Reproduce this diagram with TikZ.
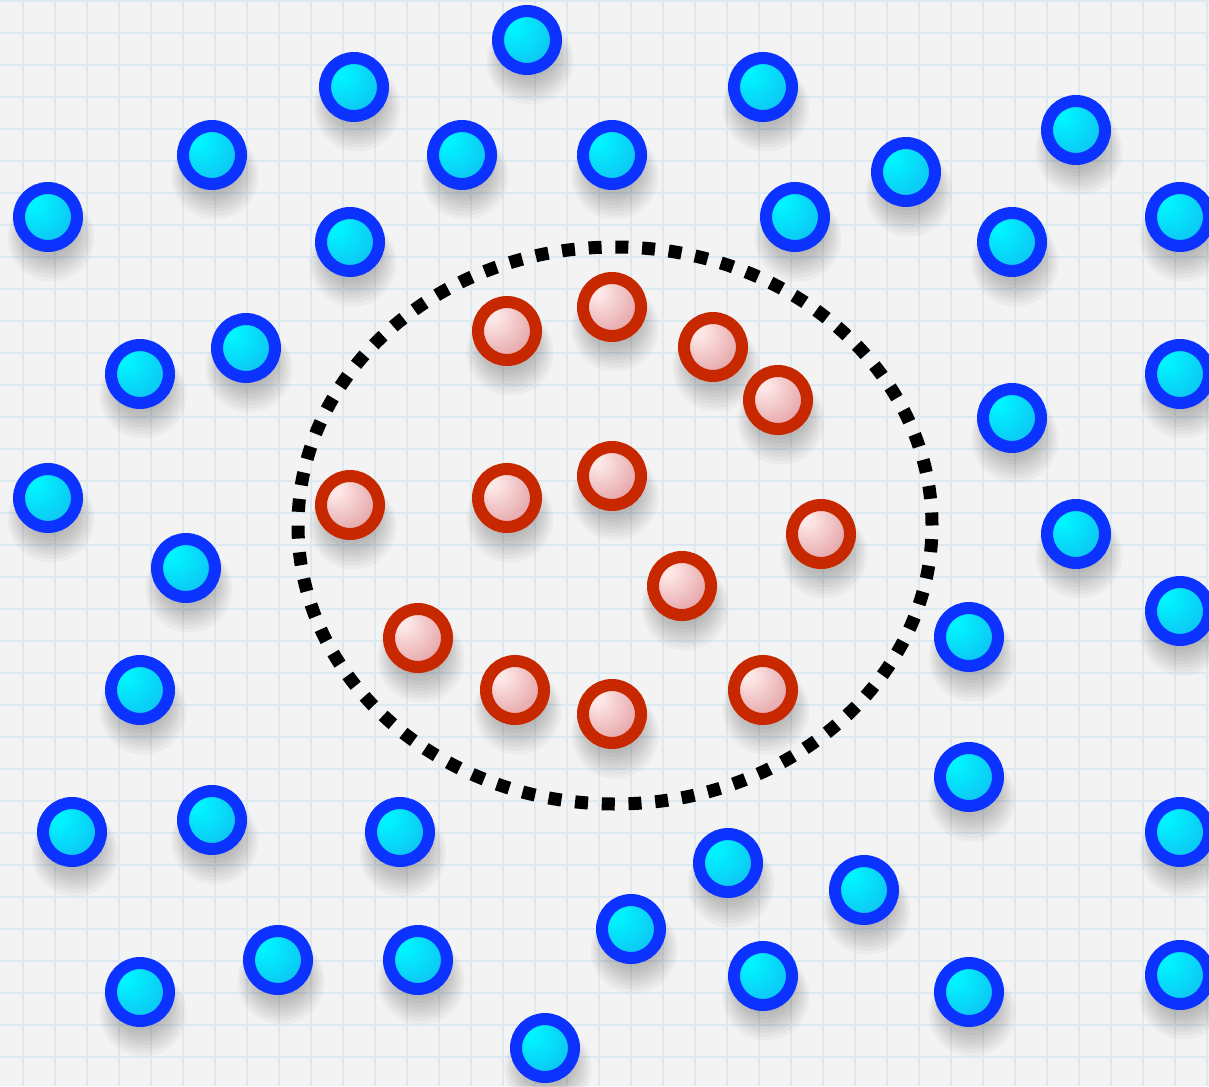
\documentclass[tikz,border=0pt]{standalone}
\usetikzlibrary{shadows}

\definecolor{paper}{RGB}{243,243,243}
\definecolor{gridline}{RGB}{221,233,240}
\definecolor{ringblue}{RGB}{12,50,255}
\definecolor{ringred}{RGB}{200,40,0}
\definecolor{bluehi}{RGB}{0,243,255}
\definecolor{bluelo}{RGB}{28,150,232}
\definecolor{redhi}{RGB}{253,230,230}
\definecolor{redlo}{RGB}{205,98,104}

\pgfdeclareradialshading{bluefill}{\pgfpoint{-14bp}{14bp}}{color(0bp)=(bluehi); color(5bp)=(bluehi); color(60bp)=(bluelo); color(70bp)=(bluelo)}
\pgfdeclareradialshading{redfill}{\pgfpoint{-14bp}{14bp}}{color(0bp)=(redhi); color(5bp)=(redhi); color(60bp)=(redlo); color(70bp)=(redlo)}

\begin{document}
\begin{tikzpicture}[x=0.5pt, y=-0.5pt,
  soft/.style={drop shadow={shadow xshift=1pt, shadow yshift=-7pt, shadow scale=#1, opacity=0.03, fill=black}},
  bead/.style={circle, minimum size=29pt, inner sep=0pt, line width=6pt, shade,
    soft=0.9, soft=1.0, soft=1.08, soft=1.16, soft=1.24, soft=1.32, soft=1.41, soft=1.5},
  bluebead/.style={bead, shading=bluefill, draw=ringblue},
  redbead/.style={bead, shading=redfill, draw=ringred},
  border/.style={line width=6.5pt, dash pattern=on 6.5pt off 6.88pt}
]
  % paper
  \fill[paper] (0,0) rectangle (1209,1086);
  \useasboundingbox (0,0) rectangle (1209,1086);
  \foreach \gx in {0,...,37}
    \draw[gridline, line width=0.9pt] (23+32*\gx,0) -- (23+32*\gx,1086);
  \foreach \gy in {0,...,33}
    \draw[gridline, line width=0.9pt] (0,1+32*\gy) -- (1209,1+32*\gy);

  % outside points
  \node[bluebead] (b1) at (527,40) {};
  \node[bluebead] (b2) at (354,87) {};
  \node[bluebead] (b3) at (763,87) {};
  \node[bluebead] (b4) at (212,155) {};
  \node[bluebead] (b5) at (462,155) {};
  \node[bluebead] (b6) at (612,155) {};
  \node[bluebead] (b7) at (906,172) {};
  \node[bluebead] (b8) at (1076,130) {};
  \node[bluebead] (b9) at (48,217) {};
  \node[bluebead] (b10) at (350,242) {};
  \node[bluebead] (b11) at (795,217) {};
  \node[bluebead] (b12) at (1012,242) {};
  \node[bluebead] (b13) at (1180,217) {};
  \node[bluebead] (b14) at (140,374) {};
  \node[bluebead] (b15) at (246,348) {};
  \node[bluebead] (b16) at (1180,374) {};
  \node[bluebead] (b17) at (1012,418) {};
  \node[bluebead] (b18) at (48,498) {};
  \node[bluebead] (b19) at (186,568) {};
  \node[bluebead] (b20) at (1076,534) {};
  \node[bluebead] (b21) at (1180,611) {};
  \node[bluebead] (b22) at (969,637) {};
  \node[bluebead] (b23) at (140,690) {};
  \node[bluebead] (b24) at (969,777) {};
  \node[bluebead] (b25) at (72,832) {};
  \node[bluebead] (b26) at (212,820) {};
  \node[bluebead] (b27) at (400,832) {};
  \node[bluebead] (b28) at (728,863) {};
  \node[bluebead] (b29) at (864,890) {};
  \node[bluebead] (b30) at (1180,832) {};
  \node[bluebead] (b31) at (631,929) {};
  \node[bluebead] (b32) at (140,992) {};
  \node[bluebead] (b33) at (278,960) {};
  \node[bluebead] (b34) at (418,960) {};
  \node[bluebead] (b35) at (763,976) {};
  \node[bluebead] (b36) at (969,992) {};
  \node[bluebead] (b37) at (1180,975) {};
  \node[bluebead] (b38) at (545,1048) {};

  % inside points
  \node[redbead] (r1) at (507,331) {};
  \node[redbead] (r2) at (612,307) {};
  \node[redbead] (r3) at (713,347) {};
  \node[redbead] (r4) at (778,400) {};
  \node[redbead] (r5) at (350,505) {};
  \node[redbead] (r6) at (507,498) {};
  \node[redbead] (r7) at (612,476) {};
  \node[redbead] (r8) at (821,534) {};
  \node[redbead] (r9) at (682,586) {};
  \node[redbead] (r10) at (418,638) {};
  \node[redbead] (r11) at (515,690) {};
  \node[redbead] (r12) at (612,714) {};
  \node[redbead] (r13) at (763,690) {};

  % decision boundary
  \draw[border] (615,525.5) ellipse [x radius=158.5pt, y radius=139.25pt];
\end{tikzpicture}
\end{document}
